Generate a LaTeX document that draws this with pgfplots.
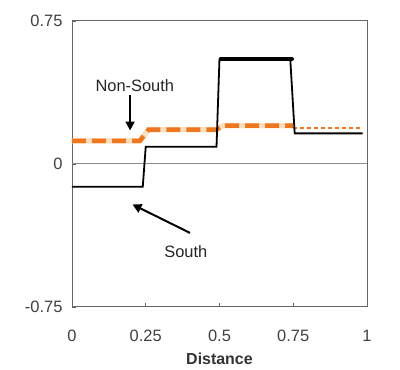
\documentclass[border=0pt]{standalone}
\usepackage{pgfplots}
\pgfplotsset{compat=1.18}
\usepackage{fontspec}
\setmainfont{Liberation Sans}
\usetikzlibrary{arrows.meta}
\definecolor{dorange}{RGB}{238,118,30}
\definecolor{lorange}{RGB}{250,200,150}
\begin{document}
\begin{tikzpicture}
\begin{axis}[
  scale only axis, width=295bp, height=286bp,
  xmin=0, xmax=1, ymin=-0.75, ymax=0.75,
  xtick={0,0.25,0.5,0.75,1},
  xticklabels={0,0.25,0.5,0.75,1},
  ytick={-0.75,0,0.75},
  yticklabels={-0.75,0,0.75},
  tick align=inside,
  xtick pos=bottom, ytick pos=left,
  major tick length=4bp,
  tick style={black!60, line width=0.6pt},
  axis line style={black!60, line width=0.9pt},
  every tick label/.append style={font=\fontsize{16.5}{18}\selectfont, text=black!75},
  xticklabel style={yshift=-20bp},
  yticklabel style={xshift=-6bp},
  xlabel={\textbf{Distance}},
  xlabel style={font=\fontsize{16}{18}\selectfont, text=black!80, yshift=-4bp},
  clip=false,
]
% zero line
\addplot[black!45, line width=0.9pt] coordinates {(0,0) (1,0)};
% Non-South (orange) halo + dashed
\addplot[lorange, line width=5.5pt, opacity=0.6] coordinates {(0,0.12) (0.23,0.12) (0.26,0.18) (0.49,0.18) (0.51,0.20) (0.75,0.20)};
\addplot[dorange, line width=4.5pt, dash pattern=on 14bp off 6bp] coordinates {(0,0.12) (0.23,0.12) (0.26,0.18) (0.49,0.18) (0.51,0.20) (0.75,0.20)};
\addplot[dorange, line width=2pt, dash pattern=on 4bp off 3bp] coordinates {(0.75,0.19) (0.985,0.19)};
% South (black)
\addplot[black, line width=1.8pt] coordinates {(0,-0.12) (0.24,-0.12) (0.25,0.09) (0.49,0.09) (0.50,0.55)};
\addplot[black, line width=4.5pt, line cap=round] coordinates {(0.505,0.55) (0.745,0.55)};
\addplot[black, line width=1.8pt] coordinates {(0.74,0.55) (0.755,0.16) (0.985,0.16)};
% annotations
\node[font=\fontsize{16.5}{18}\selectfont, text=black!85] at (axis cs:0.213,0.409) {Non-South};
\draw[black, line width=2pt, -{Triangle[length=9bp,width=9bp]}] (axis cs:0.197,0.362) -- (axis cs:0.197,0.175);
\node[font=\fontsize{16.5}{18}\selectfont, text=black!85] at (axis cs:0.386,-0.461) {South};
\draw[black, line width=2pt, -{Triangle[length=9bp,width=9bp]}] (axis cs:0.40,-0.362) -- (axis cs:0.205,-0.213);
% bounding box
\path (rel axis cs:-0.244,-0.220) rectangle (rel axis cs:1.112,1.073);
\end{axis}
\end{tikzpicture}
\end{document}
